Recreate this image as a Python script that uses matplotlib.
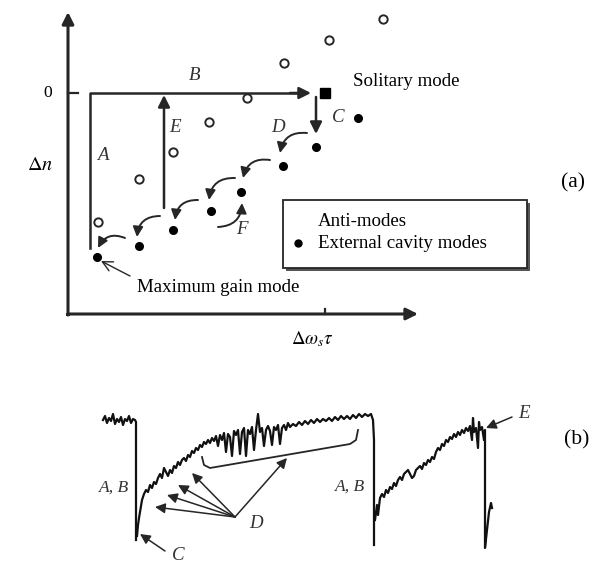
import matplotlib
matplotlib.use("Agg")
from matplotlib import pyplot as plt
from matplotlib.patches import FancyArrowPatch, Rectangle

#------------------------------------------#
# Schematic data (figure pixel coordinates)
#------------------------------------------#

# (a) anti-modes (open circles) and external cavity modes (dots)
anti_x = [98, 139, 173, 209, 247, 284, 329, 383]
anti_y = [222, 179, 152, 122, 98, 63, 40, 19]
ecm_x = [97, 139, 173, 211, 241, 283, 316, 358]
ecm_y = [257, 246, 230, 211, 192, 166, 147, 118]
solitary_x = [325]
solitary_y = [93]

# (a) hops between external cavity modes (D), start -> end
hop_start = [(307, 133), (270, 160), (235, 178), (198, 200), (160, 216), (125, 238)]
hop_end = [(280, 153), (243, 178), (209, 200), (175, 220), (137, 237), (98, 248)]

# (b) intensity trace, three pieces
tr1_x = [103, 105, 107, 109, 111, 113, 115, 117, 119, 121, 123, 125, 127, 129, 131, 133, 135, 136, 136]
tr1_y = [420, 416, 423, 418, 421, 414, 424, 419, 422, 417, 425, 419, 421, 416, 423, 419, 420, 422, 540]

tr2_x = [137, 138, 139, 140, 142, 144, 146, 148, 150, 152, 154, 156, 158, 160, 162, 164, 166, 168, 170,
         172, 174, 176, 178, 180, 182, 184, 186, 188, 190, 192, 194, 196, 198, 200, 202, 204, 206, 208,
         210, 212, 214, 216, 218, 220, 222, 224, 226, 228, 230, 232, 234, 236, 238, 240, 242, 244, 246,
         248, 250, 252, 254, 256, 258, 260, 262, 264, 266, 268, 270, 272, 274, 276, 278, 280, 282, 284,
         286, 288, 290, 293, 296, 299, 302, 305, 308, 311, 314, 317, 320, 323, 326, 329, 332, 335, 338,
         341, 344, 347, 350, 353, 356, 359, 362, 365, 368, 371, 373, 374, 374]
tr2_y = [536, 525, 518, 512, 500, 494, 490, 492, 485, 488, 482, 484, 478, 474, 478, 468, 472, 476, 470,
         473, 466, 468, 462, 465, 460, 458, 461, 455, 457, 451, 453, 448, 450, 445, 447, 442, 444, 440,
         443, 438, 441, 436, 446, 435, 440, 433, 452, 434, 437, 456, 431, 435, 430, 454, 432, 428, 456,
         430, 434, 427, 450, 430, 414, 432, 428, 446, 430, 426, 431, 445, 427, 430, 425, 444, 428, 425,
         430, 423, 427, 424, 426, 422, 425, 421, 424, 420, 423, 419, 422, 419, 421, 418, 421, 417, 420,
         416, 419, 416, 419, 415, 418, 414, 417, 414, 416, 414, 420, 440, 545]

tr3_x = [375, 377, 378, 380, 382, 384, 386, 388, 390, 392, 394, 396, 398, 400, 402, 404, 406, 408, 410,
         412, 414, 416, 418, 420, 422, 424, 426, 428, 430, 432, 434, 436, 438, 440, 442, 444, 446, 448,
         450, 452, 454, 456, 458, 460, 462, 464, 466, 468, 470, 472, 473, 474, 476, 478, 479, 480, 482,
         484, 485, 485, 487, 489, 491, 492]
tr3_y = [520, 505, 515, 498, 494, 497, 490, 493, 487, 489, 483, 486, 480, 477, 480, 474, 472, 470, 474,
         478, 476, 470, 468, 466, 469, 463, 465, 460, 462, 457, 459, 452, 448, 450, 444, 446, 440, 442,
         437, 439, 434, 437, 432, 435, 430, 433, 428, 431, 426, 440, 418, 432, 428, 448, 422, 430, 427,
         440, 430, 548, 530, 512, 503, 508]

#------------------------------------------#
# Drawing
#------------------------------------------#

plt.rcParams['font.family'] = ['Liberation Serif', 'DejaVu Serif']
plt.rcParams['mathtext.fontset'] = 'stix'

fig = plt.figure(figsize=(6.1, 5.65), dpi=100)
ax = fig.add_axes([0, 0, 1, 1])
ax.set_xlim(0, 610)
ax.set_ylim(565, 0)
ax.axis('off')

ink = '#262626'
fs = 13.6


def arrow(p0, p1, style='-|>,head_length=0.5,head_width=0.25', rad=0.0, lw=1.6, ms=14):
    ax.add_patch(FancyArrowPatch(p0, p1, arrowstyle=style, connectionstyle='arc3,rad=%s' % rad,
                                 color=ink, lw=lw, mutation_scale=ms, shrinkA=0, shrinkB=0))


# axes of panel (a)
arrow((68, 315), (68, 12), lw=2.2)
ax.plot([67, 68], [314, 314], color=ink, lw=2.2)
arrow((68, 314), (418, 314), lw=2.2)
ax.plot([68, 78], [93, 93], color=ink, lw=1.6)
ax.plot([325, 325], [314, 309], color=ink, lw=1.6)
ax.text(48, 93, '0', fontsize=fs - 1, ha='center', va='center')
ax.text(40, 166, r'$\Delta n$', fontsize=fs + 1, ha='center', va='center')
ax.text(312, 339, r'$\Delta\omega_s\tau$', fontsize=fs, ha='center', va='center')

# A, B, E, C paths
ax.plot([90, 90, 300], [248, 93, 93], color=ink, lw=1.8)
arrow((290, 93), (311, 93), lw=1.8)
arrow((164, 208), (164, 95), lw=1.8)
arrow((316, 97), (316, 134), lw=1.8)

# modes
ax.plot(anti_x, anti_y, 'o', mfc='white', mec=ink, mew=1.4, ms=6)
ax.plot(ecm_x, ecm_y, 'o', color='black', ms=5.5)
ax.plot(solitary_x, solitary_y, 's', color='black', ms=7)

# D hops and F
for s, e in zip(hop_start, hop_end):
    arrow(s, e, rad=0.45, lw=1.4, ms=12)
arrow((218, 227), (242, 203), rad=0.45, lw=1.4, ms=12)
arrow((130, 276), (101, 261), style='->,head_length=0.6,head_width=0.3', lw=1.0, ms=12)

lab = dict(fontsize=fs, style='italic', ha='center', va='center', color='#333333')
ax.text(195, 75, 'B', **lab)
ax.text(103, 155, 'A', **lab)
ax.text(175, 128, 'E', **lab)
ax.text(278, 127, 'D', **lab)
ax.text(338, 118, 'C', **lab)
ax.text(242, 230, 'F', **lab)
ax.text(353, 81, 'Solitary mode', fontsize=fs, ha='left', va='center')
ax.text(137, 288, 'Maximum gain mode', fontsize=fs, ha='left', va='center')

# legend box with shadow
ax.add_patch(Rectangle((286, 203), 244, 68, fc='#555555', ec='none'))
ax.add_patch(Rectangle((283, 200), 244, 68, fc='white', ec=ink, lw=1.3))
ax.text(318, 221, 'Anti-modes', fontsize=fs, ha='left', va='center')
ax.text(318, 243, 'External cavity modes', fontsize=fs, ha='left', va='center')
ax.plot([298], [243], 'o', color='black', ms=5)

ax.text(573, 183, '(a)', fontsize=fs + 2, ha='center', va='center')

# panel (b) trace
for tx, ty in [(tr1_x, tr1_y), (tr2_x, tr2_y), (tr3_x, tr3_y)]:
    ax.plot(tx, ty, color='#111111', lw=1.6)

# bracket over the noisy plateau
ax.plot([202, 204, 210, 350, 356, 358], [457, 465, 468, 444, 440, 430], color=ink, lw=1.3)

# D arrows in (b)
d_tip = [(155, 507), (167, 495), (178, 485), (192, 473), (287, 458)]
for tip in d_tip:
    arrow((235, 517), tip, lw=1.1, ms=12)
ax.text(256, 523, 'D', **lab)

arrow((165, 551), (140, 534), lw=1.1, ms=12)
ax.text(178, 556, 'C', **lab)
arrow((512, 417), (486, 428), lw=1.1, ms=12)
ax.text(524, 413, 'E', **lab)
ax.text(114, 488, 'A, B', fontsize=fs - 1, style='italic', ha='center', va='center', color='#333333')
ax.text(350, 487, 'A, B', fontsize=fs - 1, style='italic', ha='center', va='center', color='#333333')

ax.text(577, 440, '(b)', fontsize=fs + 2, ha='center', va='center')

plt.savefig('out.png', dpi=100)
